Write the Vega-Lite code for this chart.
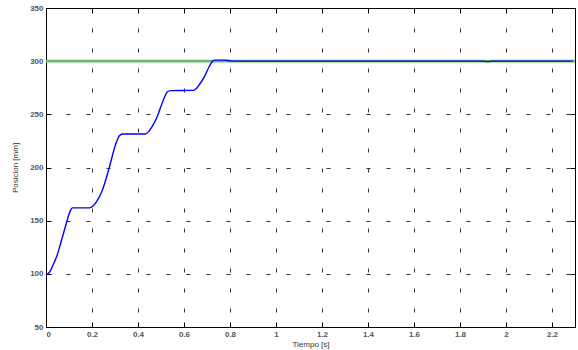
{
  "$schema": "https://vega.github.io/schema/vega-lite/v6.json",
  "width": 529,
  "height": 319,
  "autosize": {"type": "none"},
  "padding": {"left": 46, "top": 8, "right": 3, "bottom": 23},
  "background": "white",
  "config": {
    "view": {"stroke": "black", "strokeWidth": 1},
    "axis": {
      "labelFont": "Liberation Sans",
      "labelFontSize": 8,
      "labelFontWeight": "bold",
      "labelColor": "#555",
      "titleFont": "Liberation Sans",
      "titleFontSize": 8,
      "titleFontWeight": "normal",
      "titleColor": "#333",
      "domainColor": "black",
      "tickColor": "black",
      "tickSize": -5,
      "gridColor": "black",
      "gridOpacity": 0.8,
      "gridDash": [4, 16],
      "gridWidth": 1,
      "zindex": 1
    }
  },
  "datasets": {
    "ref": [
      {"t": 0, "v": 300},
      {"t": 2.3, "v": 300}
    ],
    "pos": [
      {"t": 0, "v": 99},
      {"t": 0.005, "v": 99.5},
      {"t": 0.017, "v": 102},
      {"t": 0.03, "v": 108},
      {"t": 0.046, "v": 116},
      {"t": 0.068, "v": 132},
      {"t": 0.085, "v": 145},
      {"t": 0.097, "v": 154},
      {"t": 0.105, "v": 159},
      {"t": 0.115, "v": 162},
      {"t": 0.19, "v": 162},
      {"t": 0.205, "v": 164},
      {"t": 0.22, "v": 168},
      {"t": 0.24, "v": 176},
      {"t": 0.255, "v": 185},
      {"t": 0.27, "v": 196},
      {"t": 0.285, "v": 208},
      {"t": 0.3, "v": 220},
      {"t": 0.312, "v": 227},
      {"t": 0.322, "v": 230.5},
      {"t": 0.335, "v": 231.5},
      {"t": 0.43, "v": 231.5},
      {"t": 0.445, "v": 233.5},
      {"t": 0.46, "v": 238},
      {"t": 0.48, "v": 246},
      {"t": 0.5, "v": 257.5},
      {"t": 0.515, "v": 266},
      {"t": 0.527, "v": 271},
      {"t": 0.54, "v": 272.3},
      {"t": 0.64, "v": 272.5},
      {"t": 0.655, "v": 274.5},
      {"t": 0.67, "v": 279},
      {"t": 0.69, "v": 286},
      {"t": 0.71, "v": 295},
      {"t": 0.722, "v": 299.5},
      {"t": 0.735, "v": 301},
      {"t": 0.78, "v": 301},
      {"t": 0.8, "v": 300.3},
      {"t": 0.85, "v": 300},
      {"t": 1.9, "v": 300},
      {"t": 1.92, "v": 299.6},
      {"t": 1.94, "v": 300},
      {"t": 2.29, "v": 300}
    ]
  },
  "resolve": {"axis": {"x": "independent", "y": "independent"}},
  "layer": [
    {
      "data": {"name": "ref"},
      "mark": {"type": "line", "color": "#6ab86a", "strokeWidth": 2.8, "clip": true},
      "encoding": {
        "x": {
          "field": "t", "type": "quantitative",
          "scale": {"domain": [0, 2.3], "nice": false, "zero": false},
          "axis": {
            "orient": "bottom",
            "values": [0, 0.2, 0.4, 0.6, 0.8, 1, 1.2, 1.4, 1.6, 1.8, 2, 2.2],
            "format": "~g",
            "title": "Tiempo [s]",
            "titlePadding": 2,
            "labelPadding": 8,
            "grid": true
          }
        },
        "y": {
          "field": "v", "type": "quantitative",
          "scale": {"domain": [50, 350], "nice": false, "zero": false},
          "axis": {
            "orient": "left",
            "values": [50, 100, 150, 200, 250, 300, 350],
            "title": "Posicion [mm]",
            "titlePadding": 10,
            "labelPadding": 8,
            "grid": true
          }
        }
      }
    },
    {
      "data": {"name": "pos"},
      "mark": {"type": "line", "color": "#0000ff", "strokeWidth": 1.4, "interpolate": "monotone", "clip": true},
      "encoding": {
        "x": {
          "field": "t", "type": "quantitative",
          "scale": {"domain": [0, 2.3], "nice": false, "zero": false},
          "axis": {
            "orient": "top",
            "values": [0, 0.2, 0.4, 0.6, 0.8, 1, 1.2, 1.4, 1.6, 1.8, 2, 2.2],
            "labels": false,
            "title": null,
            "grid": false
          }
        },
        "y": {
          "field": "v", "type": "quantitative",
          "scale": {"domain": [50, 350], "nice": false, "zero": false},
          "axis": {
            "orient": "right",
            "values": [50, 100, 150, 200, 250, 300, 350],
            "labels": false,
            "title": null,
            "grid": false
          }
        }
      }
    }
  ]
}
